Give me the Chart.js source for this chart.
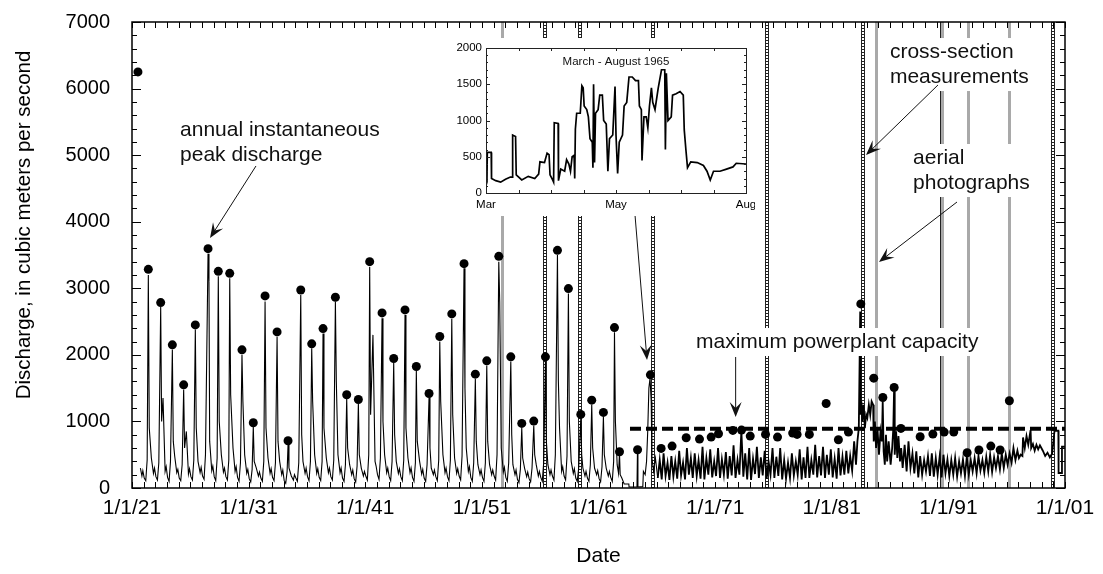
<!DOCTYPE html>
<html>
<head>
<meta charset="utf-8">
<script src="https://cdn.jsdelivr.net/npm/chart.js@4.4.0/dist/chart.umd.min.js"></script>
<style>
  body { margin: 0; background: #fff; }
  #wrap { position: relative; width: 1103px; height: 574px; }
  #inset { position: absolute; left: 450px; top: 38px; width: 305px; height: 178px; background: #fff; }
</style>
</head>
<body>
<div id="wrap">
  <canvas id="discharge" width="1103" height="574"></canvas>
  <div id="inset"><canvas id="spring65" width="305" height="178"></canvas></div>
</div>
<script>
// axis ticks
let tickYears = [1921, 1931, 1941, 1951, 1961, 1971, 1981, 1991, 2001];
let tickLabels = ["1/1/21", "1/1/31", "1/1/41", "1/1/51", "1/1/61", "1/1/71", "1/1/81", "1/1/91", "1/1/01"];

// annual instantaneous peak discharge (decimal year, m3/s)
let peakDates = [
  1921.51, 1922.40, 1923.46, 1924.46, 1925.43, 1926.43, 1927.52, 1928.40, 1929.38, 1930.43,
  1931.40, 1932.41, 1933.44, 1934.38, 1935.47, 1936.41, 1937.38, 1938.44, 1939.41, 1940.41,
  1941.38, 1942.44, 1943.44, 1944.41, 1945.38, 1946.47, 1947.39, 1948.42, 1949.47, 1950.44,
  1951.42, 1952.45, 1953.48, 1954.42, 1955.45, 1956.45, 1957.48, 1958.42, 1959.48, 1960.42,
  1961.42, 1962.37, 1962.80, 1964.35, 1965.45, 1966.37, 1967.31, 1968.52, 1969.66, 1970.66,
  1971.29, 1972.52, 1973.26, 1974.01, 1975.32, 1976.35, 1977.65, 1978.03, 1979.08, 1980.52,
  1981.57, 1982.43, 1983.49, 1984.60, 1985.38, 1986.35, 1986.93, 1988.58, 1989.67, 1990.64,
  1991.46, 1992.61, 1993.62, 1994.64, 1995.44, 1996.23
];
let peakValues = [
  6250, 3285, 2785, 2150, 1550, 2450, 3595, 3255, 3225, 2075,
  980, 2885, 2345, 710, 2975, 2165, 2395, 2865, 1400, 1330,
  3400, 2630, 1945, 2675, 1825, 1420, 2275, 2615, 3370, 1710,
  1910, 3480, 1970, 970, 1005, 1970, 3570, 2995, 1105, 1320,
  1135, 2410, 545, 575, 1700, 595, 630, 755, 735, 765,
  815, 865, 870, 780, 805, 765, 825, 805, 805, 1270,
  725, 840, 2765, 1650, 1360, 1510, 895, 770, 810, 840,
  840, 530, 570, 630, 570, 1310
];

// daily discharge trace (decimal year, m3/s)
let flowDates = [
  1921.72, 1921.85, 1921.93,
  1922.05, 1922.18, 1922.30, 1922.40, 1922.48, 1922.66, 1922.84, 1922.93,
  1923.05, 1923.18, 1923.30, 1923.46, 1923.54, 1923.66, 1923.84, 1923.93,
  1924.05, 1924.18, 1924.30, 1924.46, 1924.54, 1924.66, 1924.84, 1924.93,
  1925.05, 1925.18, 1925.30, 1925.43, 1925.51, 1925.66, 1925.84, 1925.93,
  1926.05, 1926.18, 1926.30, 1926.43, 1926.51, 1926.66, 1926.84, 1926.93,
  1927.05, 1927.18, 1927.30, 1927.52, 1927.60, 1927.66, 1927.84, 1927.93,
  1928.05, 1928.18, 1928.30, 1928.40, 1928.48, 1928.66, 1928.84, 1928.93,
  1929.05, 1929.18, 1929.30, 1929.38, 1929.46, 1929.66, 1929.84, 1929.93,
  1930.05, 1930.18, 1930.30, 1930.43, 1930.51, 1930.66, 1930.84, 1930.93,
  1931.05, 1931.18, 1931.30, 1931.40, 1931.48, 1931.66, 1931.84, 1931.93,
  1932.05, 1932.18, 1932.30, 1932.41, 1932.49, 1932.66, 1932.84, 1932.93,
  1933.05, 1933.18, 1933.30, 1933.44, 1933.52, 1933.66, 1933.84, 1933.93,
  1934.05, 1934.18, 1934.30, 1934.38, 1934.46, 1934.66, 1934.84, 1934.93,
  1935.05, 1935.18, 1935.30, 1935.47, 1935.55, 1935.66, 1935.84, 1935.93,
  1936.05, 1936.18, 1936.30, 1936.41, 1936.49, 1936.66, 1936.84, 1936.93,
  1937.05, 1937.18, 1937.30, 1937.38, 1937.46, 1937.66, 1937.84, 1937.93,
  1938.05, 1938.18, 1938.30, 1938.44, 1938.52, 1938.66, 1938.84, 1938.93,
  1939.05, 1939.18, 1939.30, 1939.41, 1939.49, 1939.66, 1939.84, 1939.93,
  1940.05, 1940.18, 1940.30, 1940.41, 1940.49, 1940.66, 1940.84, 1940.93,
  1941.05, 1941.18, 1941.30, 1941.38, 1941.46, 1941.66, 1941.84, 1941.93,
  1942.05, 1942.18, 1942.30, 1942.44, 1942.52, 1942.66, 1942.84, 1942.93,
  1943.05, 1943.18, 1943.30, 1943.44, 1943.52, 1943.66, 1943.84, 1943.93,
  1944.05, 1944.18, 1944.30, 1944.41, 1944.49, 1944.66, 1944.84, 1944.93,
  1945.05, 1945.18, 1945.30, 1945.38, 1945.46, 1945.66, 1945.84, 1945.93,
  1946.05, 1946.18, 1946.30, 1946.47, 1946.55, 1946.66, 1946.84, 1946.93,
  1947.05, 1947.18, 1947.30, 1947.39, 1947.47, 1947.66, 1947.84, 1947.93,
  1948.05, 1948.18, 1948.30, 1948.42, 1948.50, 1948.66, 1948.84, 1948.93,
  1949.05, 1949.18, 1949.30, 1949.47, 1949.55, 1949.66, 1949.84, 1949.93,
  1950.05, 1950.18, 1950.30, 1950.44, 1950.52, 1950.66, 1950.84, 1950.93,
  1951.05, 1951.18, 1951.30, 1951.42, 1951.50, 1951.66, 1951.84, 1951.93,
  1952.05, 1952.18, 1952.30, 1952.45, 1952.53, 1952.66, 1952.84, 1952.93,
  1953.05, 1953.18, 1953.30, 1953.48, 1953.56, 1953.66, 1953.84, 1953.93,
  1954.05, 1954.18, 1954.30, 1954.42, 1954.50, 1954.66, 1954.84, 1954.93,
  1955.05, 1955.18, 1955.30, 1955.45, 1955.53, 1955.66, 1955.84, 1955.93,
  1956.05, 1956.18, 1956.30, 1956.45, 1956.53, 1956.66, 1956.84, 1956.93,
  1957.05, 1957.18, 1957.30, 1957.48, 1957.56, 1957.66, 1957.84, 1957.93,
  1958.05, 1958.18, 1958.30, 1958.42, 1958.50, 1958.66, 1958.84, 1958.93,
  1959.05, 1959.18, 1959.30, 1959.48, 1959.56, 1959.66, 1959.84, 1959.93,
  1960.05, 1960.18, 1960.30, 1960.42, 1960.50, 1960.66, 1960.84, 1960.93,
  1961.05, 1961.18, 1961.30, 1961.42, 1961.50, 1961.66, 1961.84, 1961.93,
  1962.05, 1962.18, 1962.30, 1962.37, 1962.45, 1962.60, 1962.72,
  1962.80, 1962.86, 1963.00, 1963.20, 1963.60, 1963.62, 1964.30, 1964.34, 1964.38, 1964.80,
  1964.85, 1965.00, 1965.12, 1965.22, 1965.32, 1965.42, 1965.52, 1965.58, 1965.72, 1965.88,
  1966.08, 1966.25, 1966.42, 1966.58, 1966.75, 1966.92,
  1967.08, 1967.25, 1967.42, 1967.58, 1967.75, 1967.92,
  1968.08, 1968.25, 1968.42, 1968.58, 1968.75, 1968.92,
  1969.08, 1969.25, 1969.42, 1969.58, 1969.75, 1969.92,
  1970.08, 1970.25, 1970.42, 1970.58, 1970.75, 1970.92,
  1971.08, 1971.25, 1971.42, 1971.58, 1971.75, 1971.92,
  1972.08, 1972.25, 1972.42, 1972.58, 1972.75, 1972.92,
  1973.08, 1973.25, 1973.42, 1973.58, 1973.75, 1973.92,
  1974.08, 1974.25, 1974.42, 1974.58, 1974.75, 1974.92,
  1975.08, 1975.25, 1975.42, 1975.58, 1975.75, 1975.92,
  1976.08, 1976.25, 1976.42, 1976.58, 1976.75, 1976.92,
  1977.08, 1977.25, 1977.42, 1977.58, 1977.75, 1977.92,
  1978.08, 1978.25, 1978.42, 1978.58, 1978.75, 1978.92,
  1979.08, 1979.25, 1979.42, 1979.58, 1979.75, 1979.92,
  1980.08, 1980.25, 1980.42, 1980.58, 1980.75, 1980.92,
  1981.08, 1981.25, 1981.42, 1981.58, 1981.75, 1981.92,
  1982.08, 1982.25, 1982.42, 1982.58, 1982.75, 1982.92,
  1983.08, 1983.20, 1983.32, 1983.44, 1983.48, 1983.54, 1983.62, 1983.72, 1983.84, 1983.95,
  1984.05, 1984.18, 1984.30, 1984.42, 1984.55, 1984.60, 1984.70, 1984.80, 1984.92,
  1985.05, 1985.18, 1985.30, 1985.37, 1985.45, 1985.55, 1985.65, 1985.75, 1985.88,
  1986.05, 1986.18, 1986.28, 1986.34, 1986.40, 1986.52, 1986.62, 1986.72, 1986.85, 1986.95,
  1987.08, 1987.25, 1987.42, 1987.58, 1987.75, 1987.92,
  1988.08, 1988.25, 1988.42, 1988.58, 1988.75, 1988.92,
  1989.08, 1989.25, 1989.42, 1989.58, 1989.75, 1989.92,
  1990.08, 1990.25, 1990.42, 1990.58, 1990.75, 1990.92,
  1991.08, 1991.25, 1991.42, 1991.58, 1991.75, 1991.92,
  1992.08, 1992.25, 1992.42, 1992.58, 1992.75, 1992.92,
  1993.08, 1993.25, 1993.42, 1993.58, 1993.75, 1993.92,
  1994.08, 1994.25, 1994.42, 1994.58, 1994.75, 1994.92,
  1995.08, 1995.25, 1995.42, 1995.58, 1995.75, 1995.92,
  1996.08, 1996.25, 1996.42, 1996.58, 1996.75, 1996.92,
  1997.05, 1997.20, 1997.35, 1997.40, 1997.55, 1997.70, 1997.85,
  1998.05, 1998.10, 1998.25, 1998.40, 1998.55, 1998.70, 1998.85,
  1999.10, 1999.30, 1999.50, 1999.70, 1999.90,
  2000.10, 2000.43, 2000.45, 2000.72, 2000.74, 2000.99
];
let flowValues = [
  300, 180, 260,
  150, 110, 420, 3200, 900, 450, 220, 300,
  170, 120, 380, 2720, 1000, 1350, 250, 320,
  160, 100, 400, 2080, 700, 480, 230, 280,
  150, 110, 350, 1480, 600, 850, 210, 290,
  170, 120, 420, 2380, 900, 400, 230, 310,
  180, 130, 500, 3520, 3100, 700, 260, 330,
  170, 110, 450, 3180, 1000, 500, 240, 300,
  170, 120, 420, 3150, 1400, 600, 250, 320,
  160, 100, 380, 2000, 1300, 500, 220, 280,
  140, 90, 280, 920, 400, 300, 180, 240,
  150, 100, 400, 2800, 900, 450, 220, 290,
  160, 110, 380, 2270, 700, 400, 200, 270,
  110, 70, 250, 650, 300, 180, 120, 200,
  150, 100, 380, 2900, 800, 400, 220, 300,
  170, 110, 400, 2100, 1300, 500, 220, 290,
  160, 110, 400, 2320, 900, 450, 230, 300,
  170, 120, 420, 2800, 1600, 500, 230, 300,
  150, 100, 350, 1340, 600, 350, 200, 270,
  140, 90, 330, 1270, 500, 300, 180, 250,
  180, 120, 500, 3320, 1100, 2300, 400, 330,
  200, 130, 450, 2550, 1000, 500, 230, 300,
  170, 110, 400, 1880, 800, 400, 220, 290,
  170, 110, 420, 2600, 900, 450, 230, 300,
  160, 100, 380, 1760, 700, 400, 210, 280,
  150, 100, 350, 1360, 600, 300, 200, 270,
  170, 110, 420, 2200, 1300, 500, 230, 300,
  170, 110, 420, 2540, 1100, 450, 220, 290,
  180, 120, 480, 3300, 1500, 600, 250, 320,
  160, 100, 380, 1640, 700, 350, 200, 270,
  160, 100, 380, 1840, 700, 350, 200, 270,
  180, 120, 500, 3400, 2800, 600, 240, 310,
  160, 100, 380, 1900, 800, 350, 200, 270,
  130, 80, 280, 900, 450, 300, 170, 240,
  140, 90, 300, 940, 500, 350, 180, 250,
  160, 100, 380, 1900, 700, 350, 200, 270,
  180, 120, 500, 3500, 1600, 900, 250, 320,
  180, 120, 480, 2920, 1000, 400, 220, 290,
  150, 100, 300, 1040, 500, 300, 180, 250,
  150, 100, 350, 1250, 600, 300, 200, 260,
  140, 90, 320, 1070, 500, 300, 180, 250,
  160, 100, 400, 2340, 1000, 350, 220,
  520, 200, 150, 60, 60, 15, 15, 540, 15, 20,
  250, 200, 400, 850, 1500, 1650, 1300, 450, 250, 450,
  150, 420, 130, 520, 180, 380,
  120, 480, 170, 400, 140, 560,
  190, 380, 130, 600, 200, 450,
  150, 520, 180, 420, 140, 620,
  130, 450, 200, 580, 160, 400,
  180, 600, 150, 430, 200, 540,
  140, 480, 190, 640, 150, 420,
  200, 860, 170, 520, 130, 600,
  120, 440, 210, 620, 150, 460,
  190, 560, 140, 400, 200, 600,
  150, 470, 180, 600, 130, 420,
  140, 380, 150, 520, 190, 400,
  200, 580, 130, 460, 150, 620,
  150, 420, 200, 650, 160, 480,
  190, 620, 150, 500, 200, 580,
  160, 440, 140, 600, 190, 470,
  200, 560, 220, 480, 260, 700,
  350, 700, 900, 2650, 1100, 1300, 1000, 1250, 900, 1100,
  1050, 1250, 1100, 1300, 1250, 700, 1000, 600, 900,
  500, 850, 700, 1300, 550, 350, 800, 400, 700,
  350, 600, 900, 1450, 500, 850, 450, 780, 400, 600,
  300, 650, 250, 700, 300, 520,
  220, 550, 160, 480, 200, 420,
  250, 480, 180, 520, 170, 450,
  200, 470, 160, 500, 220, 430,
  180, 420, 200, 450, 170, 400,
  220, 430, 180, 470, 200, 420,
  250, 450, 220, 480, 260, 420,
  230, 470, 250, 500, 240, 460,
  300, 480, 280, 520, 300, 500,
  350, 520, 380, 600, 420, 560,
  450, 500, 480, 760, 600, 780, 650,
  870, 600, 660, 560, 650, 580, 640,
  560, 480, 530, 460, 520,
  860, 860, 225, 225, 620, 620
];

// maximum powerplant capacity line
let capacityDates = [1963.7, 2001];
let powerplantCapacity = 890;

// survey dates (decimal year)
let crossSectionDates = [1956.41, 1959.41, 1965.67, 1975.45, 1983.71, 1990.48, 2000.0];
let aerialPhotoDates = [1952.70, 1984.77, 1990.48, 1992.71, 1996.22];

// inset: March - August 1965 (position along axis in tick steps, m3/s)
let insetTickPos = [0, 4, 8];
let insetTickLabels = ["Mar", "May", "Aug"];
let insetPos = [
  0.00, 0.03, 0.04, 0.16, 0.17, 0.30, 0.45, 0.60, 0.75, 0.81,
  0.82, 0.91, 0.93, 1.10, 1.30, 1.50, 1.62, 1.66, 1.80, 1.88,
  1.94, 1.97, 2.05, 2.08, 2.10, 2.22, 2.23, 2.30, 2.42, 2.48,
  2.55, 2.60, 2.65, 2.71, 2.73, 2.75, 2.79, 2.90, 2.95, 2.99,
  3.02, 3.10, 3.15, 3.20, 3.27, 3.29, 3.31, 3.34, 3.37, 3.45,
  3.50, 3.58, 3.62, 3.70, 3.75, 3.80, 3.90, 3.97, 4.00, 4.05,
  4.10, 4.20, 4.25, 4.33, 4.40, 4.50, 4.60, 4.69, 4.72, 4.78,
  4.80, 4.86, 4.93, 4.98, 5.03, 5.09, 5.13, 5.20, 5.30, 5.40,
  5.50, 5.52, 5.55, 5.60, 5.70, 5.74, 5.85, 5.97, 6.07, 6.10,
  6.15, 6.20, 6.30, 6.50, 6.69, 6.80, 6.90, 7.00, 7.20, 7.40,
  7.60, 7.70, 8.00
];
let insetFlow = [
  250, 200, 560, 560, 200, 170, 150, 190, 220, 220,
  800, 780, 250, 180, 230, 200, 260, 430, 420, 550,
  530, 250, 180, 150, 970, 960, 170, 330, 300, 460,
  400, 300, 500, 520, 200, 880, 1100, 1100, 1480, 1450,
  1200, 1150, 1050, 750, 700, 350, 1500, 420, 1100, 1150,
  1350, 1350, 1000, 950, 300, 750, 800, 1470, 800, 270,
  700, 800, 1200, 1250, 1600, 1600, 1550, 1550, 1200, 1150,
  450, 1050, 1050, 900, 1200, 1450, 1250, 1150, 1450, 1700,
  1700, 600, 1650, 1000, 1050, 1350, 1370, 1400, 1350, 870,
  600, 350, 430, 420, 380, 300, 180, 300, 300, 330,
  360, 410, 400
];

const FAMILY = "'Liberation Sans', Arial, Helvetica, sans-serif";
Chart.defaults.font.family = FAMILY;
Chart.defaults.color = "#000";

// annotation text and arrows, in chart units (year, m3/s)
const notes = [
  { lines: ["annual instantaneous", "peak discharge"], x: 1925.12, y: 5378 },
  { lines: ["maximum powerplant capacity"], x: 1969.36, y: 2193 },
  { lines: ["cross-section", "measurements"], x: 1985.99, y: 6549 },
  { lines: ["aerial", "photographs"], x: 1987.97, y: 4957 }
];
const arrows = [
  [1931.63, 4837, 1927.69, 3755],
  [1964.13, 4100, 1965.16, 1923],
  [1972.76, 1968, 1972.76, 1067],
  [1990.11, 6054, 1983.94, 5002],
  [1991.74, 4296, 1985.05, 3395]
];

function drawArrow(ctx, x1, y1, x2, y2) {
  const a = Math.atan2(y2 - y1, x2 - x1), L = 15, W = 6;
  const c = Math.cos(a), s = Math.sin(a);
  ctx.beginPath();
  ctx.moveTo(x1, y1);
  ctx.lineTo(x2 - c * 8, y2 - s * 8);
  ctx.stroke();
  ctx.beginPath();
  ctx.moveTo(x2, y2);
  ctx.lineTo(x2 - L * c + W * s, y2 - L * s - W * c);
  ctx.lineTo(x2 - 0.6 * L * c, y2 - 0.6 * L * s);
  ctx.lineTo(x2 - L * c - W * s, y2 - L * s + W * c);
  ctx.closePath();
  ctx.fill();
}

// no extra room for half tick labels: the layout padding sets the plot edges
function noOverhang(s) {
  s.paddingTop = 0; s.paddingBottom = 0; s.paddingLeft = 0; s.paddingRight = 0;
}

const surveyLines = {
  id: "surveyLines",
  beforeDatasetsDraw(chart) {
    const { ctx, chartArea: a, scales: { x } } = chart;
    ctx.save();
    crossSectionDates.forEach(d => {
      const px = Math.round(x.getPixelForValue(d));
      ctx.strokeStyle = "#222";
      ctx.setLineDash([]);
      ctx.lineWidth = 1;
      ctx.beginPath();
      ctx.moveTo(px - 1.5, a.top); ctx.lineTo(px - 1.5, a.bottom);
      ctx.moveTo(px + 1.5, a.top); ctx.lineTo(px + 1.5, a.bottom);
      ctx.stroke();
      ctx.lineWidth = 2;
      ctx.setLineDash([1, 2]);
      ctx.beginPath();
      ctx.moveTo(px, a.top); ctx.lineTo(px, a.bottom);
      ctx.stroke();
    });
    ctx.setLineDash([]);
    ctx.strokeStyle = "#a9a9a9";
    ctx.lineWidth = 3;
    aerialPhotoDates.forEach(d => {
      const px = Math.round(x.getPixelForValue(d)) + 0.5;
      ctx.beginPath();
      ctx.moveTo(px, a.top); ctx.lineTo(px, a.bottom);
      ctx.stroke();
    });
    ctx.restore();
  },
  afterDatasetsDraw(chart) {
    const { ctx, chartArea: a, scales: { x, y } } = chart;
    ctx.save();
    // frame
    ctx.strokeStyle = "#000";
    ctx.lineWidth = 1.5;
    ctx.strokeRect(a.left, a.top, a.right - a.left, a.bottom - a.top);
    // inside ticks
    ctx.lineWidth = 1;
    ctx.beginPath();
    for (let yr = 1921; yr <= 2001; yr++) {
      const px = Math.round(x.getPixelForValue(yr)) + 0.5;
      ctx.moveTo(px, a.bottom); ctx.lineTo(px, a.bottom - 6);
      ctx.moveTo(px, a.top); ctx.lineTo(px, a.top + 6);
    }
    for (let v = 0; v <= 7000; v += 200) {
      const py = Math.round(y.getPixelForValue(v)) + 0.5;
      const len = v % 1000 === 0 ? 9 : 5;
      ctx.moveTo(a.left, py); ctx.lineTo(a.left + len, py);
      ctx.moveTo(a.right, py); ctx.lineTo(a.right - len, py);
    }
    ctx.stroke();
    // annotations
    ctx.font = "21px " + FAMILY;
    ctx.textBaseline = "middle";
    ctx.textAlign = "left";
    notes.forEach(n => {
      const nx = x.getPixelForValue(n.x), ny = y.getPixelForValue(n.y);
      const w = Math.max(...n.lines.map(t => ctx.measureText(t).width));
      ctx.fillStyle = "#fff";
      ctx.fillRect(nx - 3, ny - 14, w + 6, (n.lines.length - 1) * 25 + 28);
      ctx.fillStyle = "#111";
      n.lines.forEach((t, i) => ctx.fillText(t, nx, ny + i * 25));
    });
    ctx.strokeStyle = "#111";
    ctx.fillStyle = "#111";
    ctx.lineWidth = 1;
    arrows.forEach(r => drawArrow(ctx,
      x.getPixelForValue(r[0]), y.getPixelForValue(r[1]),
      x.getPixelForValue(r[2]), y.getPixelForValue(r[3])));
    // y axis title
    ctx.translate(24, 225);
    ctx.rotate(-Math.PI / 2);
    ctx.textAlign = "center";
    ctx.font = "20.5px " + FAMILY;
    ctx.fillStyle = "#000";
    ctx.fillText("Discharge, in cubic meters per second", 0, 0);
    ctx.restore();
  }
};

let flowPts = flowDates.map((d, i) => ({ x: d, y: flowValues[i] }));
let peakPts = peakDates.map((d, i) => ({ x: d, y: peakValues[i] }));
let capPts = capacityDates.map(d => ({ x: d, y: powerplantCapacity }));

let Discharge = new Chart(document.getElementById("discharge"), {
  type: "line",
  data: {
    datasets: [
      {
        label: "Annual peak",
        type: "scatter",
        data: peakPts,
        backgroundColor: "#000",
        borderWidth: 0,
        pointRadius: 4.5,
        order: 0,
      },
      {
        label: "Powerplant capacity",
        data: capPts,
        borderColor: "#000",
        borderWidth: 4,
        borderDash: [11, 5],
        pointRadius: 0,
        order: 1,
      },
      {
        label: "Daily discharge",
        data: flowPts,
        borderColor: "#000",
        borderWidth: 1,
        pointRadius: 0,
        tension: 0,
        // regulated flows fluctuate daily, draw them heavier
        segment: { borderWidth: c => (c.p0.parsed.x > 1965.9 ? 1.8 : 1.1) },
        order: 2,
      },
    ],
  },
  options: {
    responsive: false,
    animation: false,
    devicePixelRatio: 1,
    layout: { padding: { top: 22, right: 38, left: 0, bottom: 0 } },
    plugins: { legend: { display: false }, tooltip: { enabled: false } },
    scales: {
      x: {
        type: "linear",
        min: 1921,
        max: 2001,
        grid: { display: false, drawTicks: false },
        border: { display: false },
        afterBuildTicks: s => { s.ticks = tickYears.map(v => ({ value: v })); },
        afterFit: s => { s.height = 86; noOverhang(s); },
        ticks: {
          autoSkip: false,
          maxRotation: 0,
          padding: 8,
          font: { size: 21 },
          callback: v => tickLabels[tickYears.indexOf(v)],
        },
        title: { display: true, text: "Date", font: { size: 21 }, padding: { top: 0, bottom: 5 } },
      },
      y: {
        min: 0,
        max: 7000,
        grid: { display: false, drawTicks: false },
        border: { display: false },
        afterFit: s => { s.width = 132; noOverhang(s); },
        ticks: { stepSize: 1000, padding: 22, font: { size: 20 }, callback: v => String(v) },
      },
    },
  },
  plugins: [surveyLines],
});

// Inset
const insetFrame = {
  id: "insetFrame",
  afterDatasetsDraw(chart) {
    const { ctx, chartArea: a, scales: { x, y } } = chart;
    ctx.save();
    ctx.strokeStyle = "#222";
    ctx.lineWidth = 1;
    ctx.strokeRect(a.left + 0.5, a.top + 0.5, a.right - a.left, a.bottom - a.top);
    ctx.beginPath();
    for (let u = 0; u <= 8; u++) {
      const px = Math.round(x.getPixelForValue(u)) + 0.5;
      ctx.moveTo(px, a.bottom); ctx.lineTo(px, a.bottom - 3);
      ctx.moveTo(px, a.top); ctx.lineTo(px, a.top + 3);
    }
    for (let v = 0; v <= 2000; v += 100) {
      const py = Math.round(y.getPixelForValue(v)) + 0.5;
      const len = v % 500 === 0 ? 4 : 2;
      ctx.moveTo(a.left, py); ctx.lineTo(a.left + len, py);
      ctx.moveTo(a.right, py); ctx.lineTo(a.right - len, py);
    }
    ctx.stroke();
    ctx.font = "11.5px " + FAMILY;
    ctx.fillStyle = "#111";
    ctx.textAlign = "center";
    ctx.textBaseline = "middle";
    ctx.fillText("March - August 1965", (a.left + a.right) / 2, a.top + 14);
    ctx.restore();
  }
};

let insetPts = insetPos.map((p, i) => ({ x: p, y: insetFlow[i] }));

let Spring65 = new Chart(document.getElementById("spring65"), {
  type: "line",
  data: {
    datasets: [
      {
        label: "March - August 1965",
        data: insetPts,
        borderColor: "#000",
        borderWidth: 1.7,
        pointRadius: 0,
        tension: 0,
      },
    ],
  },
  options: {
    responsive: false,
    animation: false,
    devicePixelRatio: 1,
    layout: { padding: { top: 10, right: 9, left: 0, bottom: 0 } },
    plugins: { legend: { display: false }, tooltip: { enabled: false } },
    scales: {
      x: {
        type: "linear",
        min: 0,
        max: 8,
        grid: { display: false, drawTicks: false },
        border: { display: false },
        afterBuildTicks: s => { s.ticks = insetTickPos.map(v => ({ value: v })); },
        afterFit: s => { s.height = 23; noOverhang(s); },
        ticks: {
          autoSkip: false,
          maxRotation: 0,
          padding: 5,
          font: { size: 11.5 },
          callback: v => insetTickLabels[insetTickPos.indexOf(v)],
        },
      },
      y: {
        min: 0,
        max: 2000,
        grid: { display: false, drawTicks: false },
        border: { display: false },
        afterFit: s => { s.width = 36; noOverhang(s); },
        ticks: { stepSize: 500, padding: 4, font: { size: 11.5 }, callback: v => String(v) },
      },
    },
  },
  plugins: [insetFrame],
});
</script>
</body>
</html>
